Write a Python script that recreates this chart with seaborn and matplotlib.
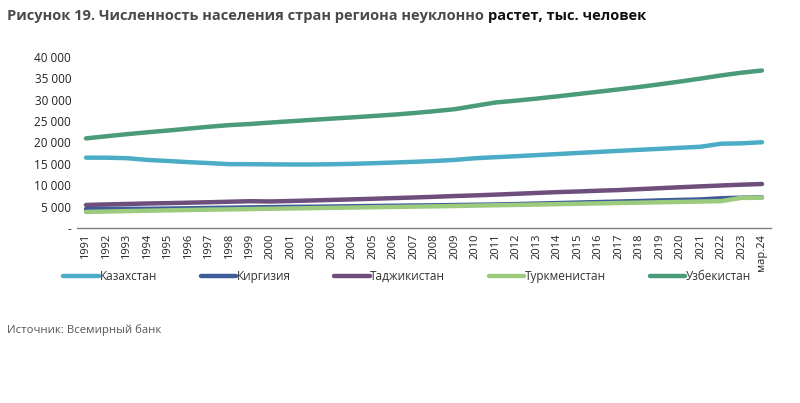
import matplotlib
matplotlib.use("Agg")
import matplotlib.pyplot as plt
import seaborn as sns
import pandas as pd
import numpy as np

years = [str(y) for y in range(1991, 2024)] + ["мар.24"]

kazakhstan = [16450, 16440, 16330, 15920, 15680, 15400, 15180, 14930, 14930, 14880,
              14860, 14860, 14910, 15010, 15150, 15310, 15480, 15670, 15930, 16320,
              16560, 16790, 17040, 17290, 17540, 17790, 18040, 18280, 18510, 18760,
              19000, 19700, 19800, 20050]
kyrgyzstan = [4460, 4520, 4510, 4500, 4560, 4630, 4700, 4770, 4840, 4900,
              4950, 4990, 5040, 5100, 5160, 5220, 5270, 5320, 5380, 5450,
              5510, 5610, 5720, 5840, 5960, 6080, 6200, 6320, 6460, 6580,
              6690, 6970, 7100, 7160]
tajikistan = [5400, 5530, 5640, 5750, 5830, 5930, 6040, 6160, 6280, 6220,
              6330, 6450, 6580, 6710, 6850, 7000, 7150, 7310, 7490, 7640,
              7820, 8010, 8210, 8400, 8550, 8730, 8880, 9100, 9320, 9540,
              9750, 9950, 10140, 10300]
turkmenistan = [3770, 3870, 3970, 4060, 4150, 4230, 4310, 4370, 4440, 4520,
                4590, 4660, 4730, 4800, 4870, 4940, 5010, 5080, 5160, 5250,
                5330, 5410, 5500, 5590, 5680, 5770, 5860, 5940, 6030, 6120,
                6200, 6300, 7060, 7080]
uzbekistan = [20950, 21450, 21940, 22380, 22790, 23230, 23670, 24050, 24310, 24650,
              24960, 25270, 25570, 25860, 26170, 26490, 26870, 27300, 27770, 28560,
              29340, 29770, 30240, 30760, 31300, 31850, 32390, 32960, 33580, 34230,
              34920, 35650, 36300, 36800]

countries = ["Казахстан", "Киргизия", "Таджикистан", "Туркменистан", "Узбекистан"]
series = [kazakhstan, kyrgyzstan, tajikistan, turkmenistan, uzbekistan]
colors = ["#4BACC6", "#3E5C9A", "#6E4E7C", "#9CCB7E", "#4A9B7A"]

rows = []
for c, vals in zip(countries, series):
    for i, v in enumerate(vals):
        rows.append({"idx": i, "Страна": c, "val": v})
df = pd.DataFrame(rows)

sns.set_theme(style="white")
plt.rcParams['font.family'] = ['Open Sans', 'DejaVu Sans']

fig = plt.figure(figsize=(8.0, 4.03), dpi=100)
ax = fig.add_axes([0.096, 0.434, 0.868, 0.425])

sns.lineplot(data=df, x="idx", y="val", hue="Страна", hue_order=countries,
             palette=dict(zip(countries, colors)), linewidth=3.2, ax=ax,
             legend=False)

ax.set_xlim(-0.45, len(years) - 0.55)
ax.set_ylim(0, 40000)
ax.set_xticks(range(len(years)))
ax.set_xticklabels(years, rotation=90, fontsize=8, color="#222222")
yt = list(range(0, 40001, 5000))
ax.set_yticks(yt)
ax.set_yticklabels(["-"] + [f"{v:,}".replace(",", " ") for v in yt[1:]],
                   fontsize=8.5, color="#222222")
ax.tick_params(axis="both", length=0, pad=4)
ax.set_xlabel("")
ax.set_ylabel("")
for s in ["top", "right", "left"]:
    ax.spines[s].set_visible(False)
ax.spines["bottom"].set_color("#7f7f7f")
ax.spines["bottom"].set_linewidth(1)

handles = [plt.Line2D([0], [0], color=c, lw=3.2) for c in colors]
fig.legend(handles, countries, loc="center", bbox_to_anchor=(0.509, 0.313),
           ncol=5, frameon=False, fontsize=8.5, handlelength=3.0,
           handletextpad=0.05, columnspacing=3.7, labelcolor="#333333")

t1 = fig.text(0.009, 0.96, "Рисунок 19. Численность населения стран региона неуклонно ",
              fontsize=10.5, fontweight="bold", color="#4a4a4a", va="center", ha="left")
fig.canvas.draw()
bb = t1.get_window_extent(renderer=fig.canvas.get_renderer())
fig.text(bb.x1 / fig.bbox.width, 0.96, "растет, тыс. человек",
         fontsize=10.5, fontweight="bold", color="#111111", va="center", ha="left")
fig.text(0.009, 0.18, "Источник: Всемирный банк", fontsize=8.2, color="#555555",
         va="center", ha="left")

fig.savefig("out.png", dpi=100, facecolor="white")
